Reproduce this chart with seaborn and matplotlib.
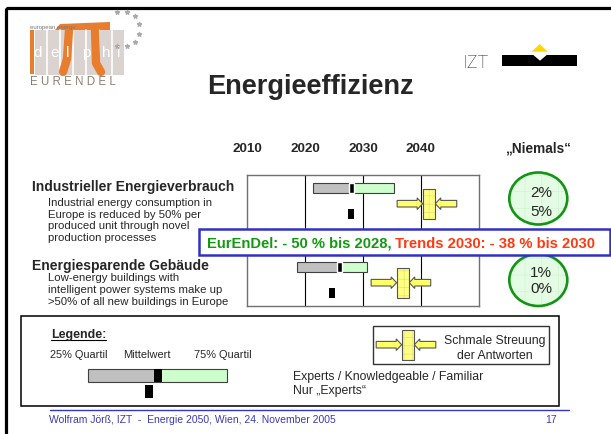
import numpy as np
import matplotlib
matplotlib.use("Agg")
import matplotlib.pyplot as plt
import matplotlib.patches as mpatches
import seaborn as sns

# values
rows = ["Industrieller Energieverbrauch", "Energiesparende Gebäude"]
descriptions = [
    ["Industrial energy consumption in", "Europe is reduced by 50% per",
     "produced unit through novel", "production processes"],
    ["Low-energy buildings with", "intelligent power systems make up",
     ">50% of all new buildings in Europe"],
]
q25 = [2021.3, 2018.6]
mean = [2028.0, 2025.9]
q75 = [2035.4, 2030.7]
experts = [2027.85, 2024.7]
narrow_center = [2041.4, 2036.9]
never_all = [2, 1]
never_experts = [5, 0]
years = [2010, 2020, 2030, 2040]

sns.set_style("white")
plt.rcParams["font.family"] = ["Liberation Sans", "DejaVu Sans"]
plt.rcParams["hatch.linewidth"] = 0.5

fig = plt.figure(figsize=(6.11, 4.35), dpi=100)

# page layer in pixel units
page = fig.add_axes([0, 0, 1, 1], zorder=0)
page.set_xlim(0, 611)
page.set_ylim(435, 0)
page.axis("off")


def narrow(axis, xc, yc, kx=1.0):
    # yellow "narrow spread" symbol: box with two arrows pointing at it
    hw, l1, l2, hl = 6.3 * kx, 25.5 * kx, 21.5 * kx, 5.5 * kx
    s, h, r = 3.3, 5.8, 15
    a = xc - hw
    b = xc + hw
    left = [(a - l1, yc - s), (a - hl, yc - s), (a - hl, yc - h), (a, yc),
            (a - hl, yc + h), (a - hl, yc + s), (a - l1, yc + s)]
    right = [(b + l2, yc - s), (b + hl, yc - s), (b + hl, yc - h), (b, yc),
             (b + hl, yc + h), (b + hl, yc + s), (b + l2, yc + s)]
    for pts in (left, right):
        axis.add_patch(mpatches.Polygon(pts, closed=True, fc="#FFFF66", ec="#555555", lw=0.8, zorder=4))
    axis.add_patch(mpatches.Rectangle((a, yc - r), 2 * hw, 2 * r, fc="#FFFF80", ec="#E6E27A",
                                      hatch="++", lw=0, zorder=5))
    axis.add_patch(mpatches.Rectangle((a, yc - r), 2 * hw, 2 * r, fill=False, ec="#555555", lw=0.8, zorder=6))


# slide frame
page.add_patch(mpatches.Rectangle((6, 9), 700, 500, fill=False, ec="black", lw=2.3))

# logo (rough)
page.add_patch(mpatches.Rectangle((35, 31), 89, 45, fc="#DAD3D0", lw=0))
for gx in [47, 60, 73, 86, 99, 112]:
    page.plot([gx, gx], [31, 76], color="white", lw=1.2)
page.add_patch(mpatches.Rectangle((29.5, 31), 4, 44, fc="#E87D2E", lw=0))
page.add_patch(mpatches.Polygon([(55, 31), (60, 25), (110, 23), (110, 31)], fc="#E87D2E", lw=0))
page.plot([69, 67, 63], [31, 60, 73], color="#E87D2E", lw=6, solid_capstyle="round")
page.plot([95, 96, 101], [31, 64, 73], color="#E87D2E", lw=6, solid_capstyle="round")
for ch, lx in zip("delphi", [38, 55, 68, 86, 106, 119]):
    page.text(lx, 57, ch, color="white", fontsize=11, ha="center", va="baseline")
page.text(30, 28.5, "european energy", color="#777777", fontsize=4.3, va="baseline")
page.text(29.5, 85, "E U R E N D E L", color="#8A8070", fontsize=8.3, va="baseline")
ang = np.radians([-105, -75, -45, -15, 15, 45, 75, 105])
page.scatter(122 + 18 * np.cos(ang), 30 + 18 * np.sin(ang), marker="*", s=9, color="#AAAAAA", zorder=1)

# title and IZT mark
page.text(310.5, 93.5, "Energieeffizienz", ha="center", va="baseline", fontsize=19.5, weight="bold")
page.text(462.7, 67.5, "IZT", fontsize=13, va="baseline", color="#222222", family=["Roboto", "DejaVu Sans"],
          weight="light")
page.add_patch(mpatches.Rectangle((501.7, 56), 75.6, 11.3, fc="black", lw=0))
page.add_patch(mpatches.Polygon([(533.3, 56), (546.7, 56), (540, 61.7)], fc="white", lw=0))
page.add_patch(mpatches.Polygon([(531.7, 52.7), (547.7, 52.7), (539.7, 45)], fc="#FFD700", lw=0))

# column header
page.text(538, 152.3, "\u201eNiemals\u201c", ha="center", va="baseline", fontsize=9.8, weight="bold")

# row texts
head_base = [190.7, 270]
sub_base = [206, 281.5]
for i, name in enumerate(rows):
    page.text(32.3, head_base[i], name, fontsize=10, weight="bold", va="baseline")
    for j, line in enumerate(descriptions[i]):
        page.text(48.3, sub_base[i] + j * 11.7, line, fontsize=8.2, va="baseline")

# "Niemals" circles
circ_y = [199.5, 281]
txt_base = [(196.7, 215.7), (276.7, 293.3)]
for i in range(2):
    page.add_patch(mpatches.Ellipse((538.3, circ_y[i]), 58, 52, fc="#E4FCE4", ec="#D2F2D2", hatch="+", lw=0))
    page.add_patch(mpatches.Ellipse((538.3, circ_y[i]), 58, 52, fill=False, ec="#139413", lw=1.9))
    page.text(541, txt_base[i][0], f"{never_all[i]}%", ha="center", va="baseline", fontsize=11)
    page.text(541, txt_base[i][1], f"{never_experts[i]}%", ha="center", va="baseline", fontsize=11)

# chart area
ax = fig.add_axes([247.3 / 611, (435 - 306.7) / 435, 231.4 / 611, 131 / 435], zorder=1)
row_top = np.array([0, 79])
bar_y = row_top + 13.5
exp_y = row_top + 39.5
ns_y = row_top + 29
q25a, meana, q75a = np.array(q25), np.array(mean), np.array(q75)
ax.barh(bar_y, meana - q25a, left=q25a, height=10, color="#C0C0C0", edgecolor="#404040", lw=0.8, zorder=3)
ax.barh(bar_y, q75a - meana, left=meana, height=10, color="#CCFFCC", edgecolor="#404040", lw=0.8, zorder=3)
ax.barh(bar_y, 0.9, left=meana - 0.45, height=10, color="black", zorder=4)
rect_marker = [(-0.26, -0.5), (0.26, -0.5), (0.26, 0.5), (-0.26, 0.5)]
sns.scatterplot(x=experts, y=exp_y, ax=ax, marker=rect_marker, s=59, color="black", linewidth=0,
                legend=False, zorder=4)
kx = 40 / 231.4
for xc, yc in zip(narrow_center, ns_y):
    narrow(ax, xc, yc, kx)
for yr in years[1:]:
    ax.axvline(yr, color="black", lw=0.8, zorder=2)
ax.set_xlim(2010, 2050)
ax.set_ylim(131, 0)
ax.xaxis.tick_top()
ax.set_xticks(years)
ax.set_xticklabels([str(y) for y in years], fontsize=9.7, weight="bold")
ax.tick_params(axis="x", length=0, pad=15)
ax.set_yticks([])
for sp in ax.spines.values():
    sp.set_color("#707070")
    sp.set_linewidth(1.0)

# blue summary box on top
over = fig.add_axes([0, 0, 1, 1], zorder=3)
over.set_xlim(0, 611)
over.set_ylim(435, 0)
over.axis("off")
over.patch.set_alpha(0)
over.add_patch(mpatches.Rectangle((199, 230), 411, 26, fc="white", ec="#3030C8", lw=1.8))
t1 = over.text(206.7, 247.7, "EurEnDel: - 50 % bis 2028,", color="#119A11", fontsize=10.6, weight="bold",
               va="baseline")
over.annotate(" Trends 2030: - 38 % bis 2030", xy=(1, 0), xycoords=t1, va="bottom", ha="left",
              color="#FF3A12", fontsize=10.6, weight="bold")

# legend box
page.add_patch(mpatches.Rectangle((20.7, 317.3), 538.6, 90, fill=False, ec="black", lw=1.1))
page.text(50.7, 338, "Legende:", fontsize=8.9, weight="bold", va="baseline")
page.plot([50.7, 106], [340.8, 340.8], color="black", lw=0.8)
page.text(50, 357.7, "25% Quartil", fontsize=7.9, va="baseline")
page.text(123.3, 357.7, "Mittelwert", fontsize=7.9, va="baseline")
page.text(194.3, 357.7, "75% Quartil", fontsize=7.9, va="baseline")
page.add_patch(mpatches.Rectangle((88.3, 370), 69.5, 12.7, fc="#C0C0C0", ec="#404040", lw=0.8))
page.add_patch(mpatches.Rectangle((157.8, 370), 69.2, 12.7, fc="#CCFFCC", ec="#404040", lw=0.8))
page.add_patch(mpatches.Rectangle((154, 370), 7.7, 12.7, fc="black", lw=0))
page.add_patch(mpatches.Rectangle((145, 386), 7.7, 13.3, fc="black", lw=0))
page.text(293.3, 380, "Experts / Knowledgeable / Familiar", fontsize=8.8, va="baseline")
page.text(293.3, 394, "Nur \u201eExperts\u201c", fontsize=8.8, va="baseline")
page.add_patch(mpatches.Rectangle((372.7, 327.3), 176, 37.4, fill=False, ec="#333333", lw=1))
narrow(page, 408, 345.7)
page.text(494.5, 344, "Schmale Streuung", fontsize=8.8, ha="center", va="baseline")
page.text(494.5, 358.7, "der Antworten", fontsize=8.8, ha="center", va="baseline")

# footer
page.plot([50, 569.3], [410.7, 410.7], color="#3535C8", lw=1)
page.text(49.3, 423.3, "Wolfram Jörß, IZT  -  Energie 2050, Wien, 24. November 2005", fontsize=7.5,
          color="#3A3AB8", va="baseline")
page.text(557.3, 423.3, "17", fontsize=7.5, color="#3A3AB8", ha="right", va="baseline")

fig.savefig("out.png", dpi=100)
